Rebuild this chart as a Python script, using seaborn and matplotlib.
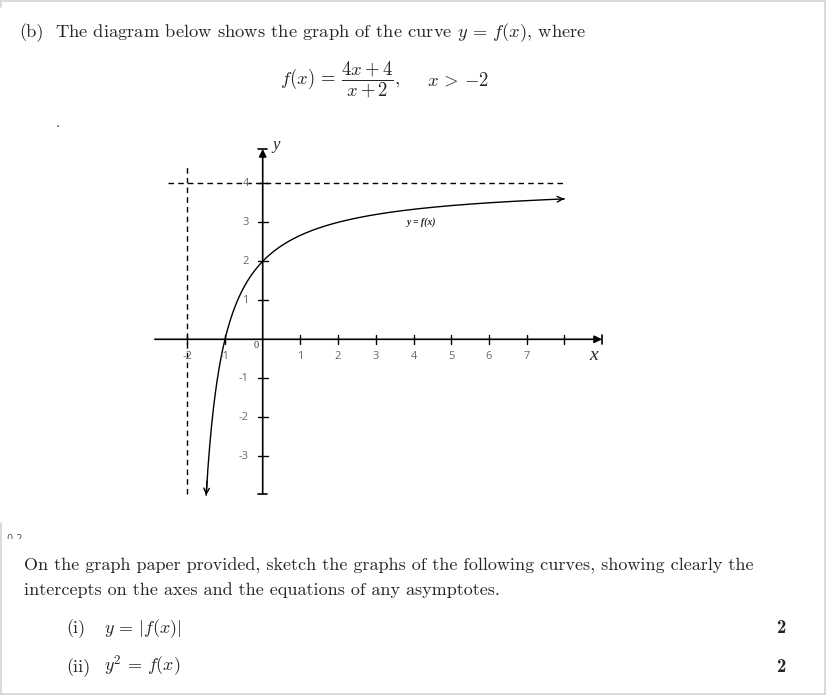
import numpy as np
import pandas as pd
import seaborn as sns
from matplotlib import pyplot as plt
from matplotlib.patches import Rectangle

# f(x) = (4x + 4) / (x + 2), as printed on the page
numerator = [4, 4]
denominator = [1, 2]
x_start, x_end = -1.5, 8.0

x_ticks = [-2, -1, 1, 2, 3, 4, 5, 6, 7, 8]
x_tick_labels = ["-2", "-1", "1", "2", "3", "4", "5", "6", "7", ""]
y_ticks = [-3, -2, -1, 1, 2, 3, 4]
y_tick_labels = ["-3", "-2", "-1", "1", "2", "3", "4"]
h_asymptote = 4
v_asymptote = -2

W, H = 826, 695
# pixel position of the origin and size of one unit on the diagram
PX0, PY0, UX, UY = 262.7, 339.3, 37.7, 39.0
XLIM, YLIM = (-3.2, 9.8), (-4.6, 5.3)

sns.set_theme(style="white")
plt.rcParams["font.family"] = ["cmr10", "DejaVu Serif"]
plt.rcParams["mathtext.fontset"] = "cm"
plt.rcParams["axes.formatter.use_mathtext"] = True


def fx(px):
    return px / W


def fy(py):
    return 1 - py / H


fig = plt.figure(figsize=(W / 100, H / 100), dpi=100)

# page frame
frame = dict(color="#d4d4d4", lw=1.2, transform=fig.transFigure)
fig.add_artist(plt.Line2D([0, 1], [fy(1), fy(1)], **frame))
fig.add_artist(plt.Line2D([fx(825.3), fx(825.3)], [0, 1], **frame))
fig.add_artist(plt.Line2D([fx(1), fx(1)], [fy(0), fy(7)], **frame))
fig.add_artist(plt.Line2D([fx(1), fx(1)], [fy(523), 0], **frame))
fig.add_artist(plt.Line2D([0, 1], [fy(693.5), fy(693.5)], **frame))

# header text
fig.text(fx(19), fy(37.5), "(b)", fontsize=13.3, va="baseline")
fig.text(fx(55), fy(37.5), r"The diagram below shows the graph of the curve $y\, =\, f(x)$, where",
         fontsize=13.3, va="baseline")
fig.text(fx(280), fy(80), r"$f(x)\, =\, \dfrac{4x + 4}{x + 2},$", fontsize=13.5, va="center")
fig.text(fx(427), fy(80), r"$x\, >\, {-2}$", fontsize=13.5, va="center")
fig.text(fx(56), fy(127), ".", fontsize=11, va="baseline")

# diagram
left = fx(PX0 + UX * XLIM[0])
right = fx(PX0 + UX * XLIM[1])
bottom = fy(PY0 - UY * YLIM[0])
top = fy(PY0 - UY * YLIM[1])
ax = fig.add_axes([left, bottom, right - left, top - bottom])
ax.set_xlim(*XLIM)
ax.set_ylim(*YLIM)
ax.set_axis_off()

xs = np.linspace(x_start, x_end, 400)
df = pd.DataFrame({"x": xs, "y": np.polyval(numerator, xs) / np.polyval(denominator, xs)})
sns.lineplot(data=df, x="x", y="y", ax=ax, color="black", lw=1.0, sort=False)
for i0, i1 in [(1, 0), (-2, -1)]:
    ax.annotate("", xy=(df.x.iloc[i1], df.y.iloc[i1]), xytext=(df.x.iloc[i0], df.y.iloc[i0]),
                arrowprops=dict(arrowstyle="->", lw=1.0, color="black",
                                shrinkA=0, shrinkB=0, mutation_scale=10))

# asymptotes
ax.plot([-2.5, 7.96], [h_asymptote, h_asymptote], color="black", lw=1.0, ls=(0, (4, 3)))
ax.plot([v_asymptote, v_asymptote], [-3.97, 4.5], color="black", lw=1.0, ls=(0, (4, 3)))

# axes with arrows
ax.annotate("", xy=(9.0, 0), xytext=(-2.86, 0),
            arrowprops=dict(arrowstyle="-|>", lw=1.2, color="black",
                            shrinkA=0, shrinkB=0, mutation_scale=11))
ax.plot([9.0, 9.0], [-0.12, 0.12], color="black", lw=1.2)
ax.annotate("", xy=(0, 4.88), xytext=(0, -3.97),
            arrowprops=dict(arrowstyle="-|>", lw=1.2, color="black",
                            shrinkA=0, shrinkB=0, mutation_scale=11))
ax.plot([-0.12, 0.12], [4.88, 4.88], color="black", lw=1.2)
ax.plot([-0.12, 0.12], [-3.97, -3.97], color="black", lw=1.2)

tick_dx, tick_dy = 4 / UX, 4 / UY
grey = "#6a6a6a"
for xv, lab in zip(x_ticks, x_tick_labels):
    ax.plot([xv, xv], [-tick_dy * 1.2, tick_dy * 1.2], color="black", lw=1.0)
    ax.text(xv, -17.5 / UY, lab, ha="center", va="center", fontsize=8,
            family="Open Sans", color=grey)
for yv, lab in zip(y_ticks, y_tick_labels):
    ax.plot([-tick_dx * 1.2, tick_dx * 1.2], [yv, yv], color="black", lw=1.0)
    ax.text(-14 / UX, yv, lab, ha="right", va="center", fontsize=8,
            family="Open Sans", color=grey)

ax.text(-7 / UX, -6 / UY, "0", ha="center", va="center", fontsize=7.5,
        family="Liberation Serif", color="#333333")
ax.text(0.25, 4.98, "y", ha="left", va="center", fontsize=12, style="italic",
        family="Liberation Serif")
ax.text(8.78, -0.42, "x", ha="center", va="center", fontsize=14, style="italic",
        family="Liberation Serif")
ax.text(4.22, 3.0, "y = f(x)", ha="center", va="center", fontsize=7, style="italic",
        weight="bold", family="Liberation Serif")

# clipped question number at the page break
qn = fig.text(fx(7), fy(542), "0 2", fontsize=7, color="#555555", va="baseline",
              family="DejaVu Sans")
qn.set_clip_on(True)
qn.set_clip_path(Rectangle((0, fy(538.5)), 1, 1 - fy(538.5), transform=fig.transFigure))

# question text
fig.text(fx(24), fy(571), "On the graph paper provided, sketch the graphs of the following "
         "curves, showing clearly the", fontsize=13, va="baseline")
fig.text(fx(24), fy(595), "intercepts on the axes and the equations of any asymptotes.",
         fontsize=13, va="baseline")
fig.text(fx(66), fy(633), "(i)", fontsize=13, va="baseline")
fig.text(fx(104), fy(633), r"$y\, =\, |f(x)|$", fontsize=13, va="baseline")
fig.text(fx(776), fy(633), "2", fontsize=13.5, va="baseline", family="cmb10")
fig.text(fx(66), fy(672), "(ii)", fontsize=13, va="baseline")
fig.text(fx(104), fy(672), r"$y^2\, =\, f(x)$", fontsize=13, va="baseline")
fig.text(fx(776), fy(672), "2", fontsize=13.5, va="baseline", family="cmb10")

fig.savefig("out.png", dpi=100, facecolor="white")
